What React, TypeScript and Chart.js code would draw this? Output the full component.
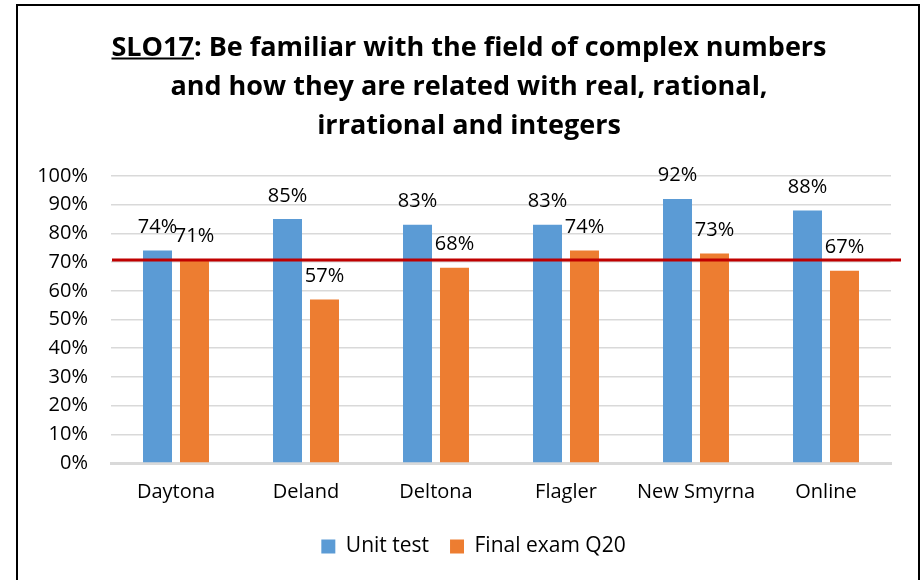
import React, { useEffect, useRef } from "react";
import { Chart, registerables } from "chart.js";

Chart.register(...registerables);

const categories = ["Daytona", "Deland", "Deltona", "Flagler", "New Smyrna", "Online"];
const unitTest = [74, 85, 83, 83, 92, 88];
const finalExamQ20 = [71, 57, 68, 74, 73, 67];
const seriesNames = ["Unit test", "Final exam Q20"];
const threshold = 70.7;
const titleLines = [
  "SLO17: Be familiar with the field of complex numbers",
  "and how they are related with real, rational,",
  "irrational and integers",
];
const underlinedPart = "SLO17";

const FONT = '"Open Sans", sans-serif';

const framePlugin = {
  id: "frame",
  beforeDraw(chart: any) {
    const ctx = chart.ctx;
    ctx.save();
    ctx.fillStyle = "#fff";
    ctx.fillRect(0, 0, chart.width, chart.height);
    ctx.strokeStyle = "#000";
    ctx.lineWidth = 2;
    ctx.strokeRect(17, 5, 902, 600);
    ctx.restore();
  },
};

const legendShiftPlugin = {
  id: "legendShift",
  afterLayout(chart: any) {
    if (chart.legend) {
      chart.legend.left += 13;
      chart.legend.right += 13;
    }
  },
};

const titlePlugin = {
  id: "customTitle",
  afterDraw(chart: any) {
    const ctx = chart.ctx;
    ctx.save();
    ctx.font = `bold 27px ${FONT}`;
    ctx.fillStyle = "#000";
    ctx.textAlign = "center";
    ctx.textBaseline = "alphabetic";
    const cx = 469;
    const baselines = [55.7, 95, 134.3];
    titleLines.forEach((t, i) => ctx.fillText(t, cx, baselines[i]));
    const w = ctx.measureText(titleLines[0]).width;
    const uw = ctx.measureText(underlinedPart).width;
    const left = cx - w / 2;
    ctx.fillRect(left, 57.5, uw, 2);
    ctx.restore();
  },
};

const thresholdPlugin = {
  id: "thresholdLine",
  afterDatasetsDraw(chart: any) {
    const ctx = chart.ctx;
    const y = chart.scales.y.getPixelForValue(threshold);
    const { left, right } = chart.chartArea;
    ctx.save();
    ctx.strokeStyle = "#C00000";
    ctx.lineWidth = 3;
    ctx.beginPath();
    ctx.moveTo(left + 1, y);
    ctx.lineTo(right + 10, y);
    ctx.stroke();
    ctx.restore();
  },
};

const labelsPlugin = {
  id: "valueLabels",
  afterDraw(chart: any) {
    const ctx = chart.ctx;
    ctx.save();
    ctx.font = `20px ${FONT}`;
    ctx.fillStyle = "#000";
    ctx.textAlign = "center";
    ctx.textBaseline = "alphabetic";
    chart.data.datasets.forEach((ds: any, di: number) => {
      const meta = chart.getDatasetMeta(di);
      meta.data.forEach((bar: any, i: number) => {
        ctx.fillText(`${ds.data[i]}%`, bar.x, bar.y - 17.5);
      });
    });
    ctx.restore();
  },
};

export default function App() {
  const ref = useRef<HTMLCanvasElement | null>(null);
  useEffect(() => {
    if (!ref.current) return;
    const chart = new Chart(ref.current, {
      type: "bar",
      data: {
        labels: categories,
        datasets: [
          {
            label: seriesNames[0],
            data: unitTest,
            backgroundColor: "#5B9BD5",
            categoryPercentage: 0.569,
            barPercentage: 0.784,
          },
          {
            label: seriesNames[1],
            data: finalExamQ20,
            backgroundColor: "#ED7D31",
            categoryPercentage: 0.569,
            barPercentage: 0.784,
          },
        ],
      },
      options: {
        responsive: false,
        animation: false,
        layout: { padding: { top: 176, left: 30, right: 31, bottom: 13 } },
        plugins: {
          title: { display: false },
          tooltip: { enabled: false },
          legend: {
            position: "bottom",
            labels: {
              boxWidth: 14,
              boxHeight: 14,
              padding: 21,
              color: "#000",
              font: { family: FONT, size: 21 },
            },
          },
        },
        scales: {
          x: {
            grid: { display: false },
            border: { display: true, color: "#D9D9D9", width: 3 },
            ticks: { color: "#000", font: { family: FONT, size: 20 }, padding: 9, maxRotation: 0 },
            afterFit: (axis: any) => {
              axis.height = 52;
            },
          },
          y: {
            min: 0,
            max: 100,
            grid: { color: "#D9D9D9", lineWidth: 1.5, drawTicks: false },
            border: { display: false },
            ticks: {
              stepSize: 10,
              color: "#000",
              padding: 23,
              font: { family: FONT, size: 20 },
              callback: (v: any) => `${v}%`,
            },
            afterFit: (axis: any) => {
              axis.width = 81;
            },
          },
        },
      },
      plugins: [framePlugin, legendShiftPlugin, thresholdPlugin, labelsPlugin, titlePlugin],
    });
    return () => chart.destroy();
  }, []);
  return (
    <div style={{ position: "absolute", left: 0, top: 0, width: 922, height: 580 }}>
      <canvas ref={ref} width={922} height={580} />
    </div>
  );
}
